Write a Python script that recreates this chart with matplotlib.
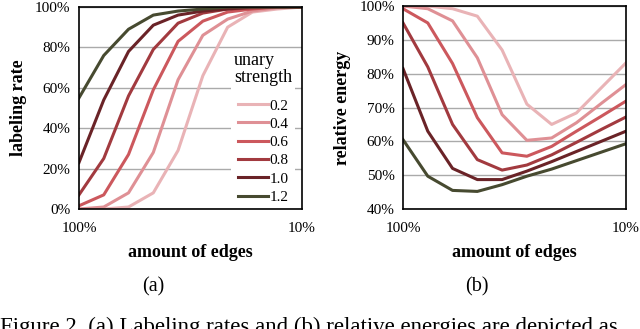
import matplotlib.pyplot as plt
from matplotlib.ticker import FuncFormatter

plt.rcParams['font.family'] = ['Liberation Serif', 'DejaVu Serif']

# amount of edges kept (%), from 100% down to 10%
edges = [100, 90, 80, 70, 60, 50, 40, 30, 20, 10]
strengths = ['0.2', '0.4', '0.6', '0.8', '1.0', '1.2']
colors = ['#e9b3b6', '#df9095', '#cc585d', '#a23a3f', '#6a2327', '#474a30']

# (a) labeling rate (%)
rate_02 = [0, 0, 1, 8, 29, 66, 90, 97.5, 99, 100]
rate_04 = [0, 1, 8, 28, 64, 86, 94, 98, 99.6, 100]
rate_06 = [1.6, 7, 27, 59, 83, 93, 97.5, 99, 100, 100]
rate_08 = [7, 25, 56, 79, 92, 97, 99, 99.5, 100, 100]
rate_10 = [23, 54, 78, 91, 96, 98, 99, 100, 100, 100]
rate_12 = [55, 76, 89, 96, 98, 99, 100, 100, 100, 100]

# (b) relative energy (%)
energy_02 = [100, 100, 99.2, 97, 87, 71, 65, 68.4, 75.8, 83.2]
energy_04 = [100, 99.2, 95.6, 84.7, 67.9, 60.3, 61, 65.5, 71.2, 76.8]
energy_06 = [99.2, 95, 83, 67, 56.6, 55.6, 58.5, 63, 67.4, 71.9]
energy_08 = [95, 82, 65, 54.6, 51.5, 53, 56, 59.7, 63.5, 67.2]
energy_10 = [81.5, 63, 52, 48.7, 48.7, 51.2, 54, 57, 60, 63]
energy_12 = [60.5, 49.7, 45.5, 45.2, 47.2, 49.7, 51.8, 54.3, 56.8, 59.3]

rates = [rate_02, rate_04, rate_06, rate_08, rate_10, rate_12]
energies = [energy_02, energy_04, energy_06, energy_08, energy_10, energy_12]

fig = plt.figure(figsize=(6.4, 3.29), dpi=100)
ax1 = fig.add_axes([0.1234, 0.3647, 0.3484, 0.614])
ax2 = fig.add_axes([0.6297, 0.3647, 0.3484, 0.617])

pct = FuncFormatter(lambda v, p: f"{v:.0f}%")

for ax in (ax1, ax2):
    ax.set_xlim(100, 10)
    ax.set_xticks([100, 10])
    ax.set_xticklabels(['100%', '10%'])
    ax.tick_params(length=0, labelsize=11, pad=9)
    ax.tick_params(axis='y', pad=6)
    ax.yaxis.set_major_formatter(pct)
    ax.grid(axis='y', color='#aaaaaa', lw=1)
    ax.set_axisbelow(True)
    for s in ax.spines.values():
        s.set_linewidth(1.2)
    ax.set_xlabel('amount of edges', fontsize=13, fontweight='bold', labelpad=7)

for vals, c, lab in zip(rates, colors, strengths):
    ax1.plot(edges, vals, color=c, lw=2.2, label=lab)
ax1.set_ylim(0, 100)
ax1.set_yticks(range(0, 101, 20))
ax1.set_ylabel('labeling rate', fontsize=13, fontweight='bold', labelpad=6)

leg = ax1.legend(title='unary\nstrength', loc='lower right', frameon=True,
                 fontsize=11, handlelength=2.0, handletextpad=0.1,
                 labelspacing=0.3, borderaxespad=0.0, borderpad=0.2,
                 bbox_to_anchor=(0.97, 0.01))
leg.get_frame().set_edgecolor('none')
leg.get_frame().set_facecolor('white')
leg.get_frame().set_alpha(1)
leg.get_title().set_fontsize(13)
leg.get_title().set_linespacing(1.0)
leg._legend_box.sep = 9  # extra gap under the title

for vals, c in zip(energies, colors):
    ax2.plot(edges, vals, color=c, lw=2.2)
ax2.set_ylim(40, 100)
ax2.set_yticks(range(40, 101, 10))
ax2.set_ylabel('relative energy', fontsize=13, fontweight='bold', labelpad=6)

fig.text(153 / 640, 1 - 287 / 329, '(a)', ha='center', va='center', fontsize=14.5)
fig.text(477 / 640, 1 - 287 / 329, '(b)', ha='center', va='center', fontsize=14.5)
fig.text(0.0, 1 - 333 / 329,
         'Figure 2. (a) Labeling rates and (b) relative energies are depicted as',
         ha='left', va='baseline', fontsize=16.5)

fig.savefig('out.png', dpi=100)
